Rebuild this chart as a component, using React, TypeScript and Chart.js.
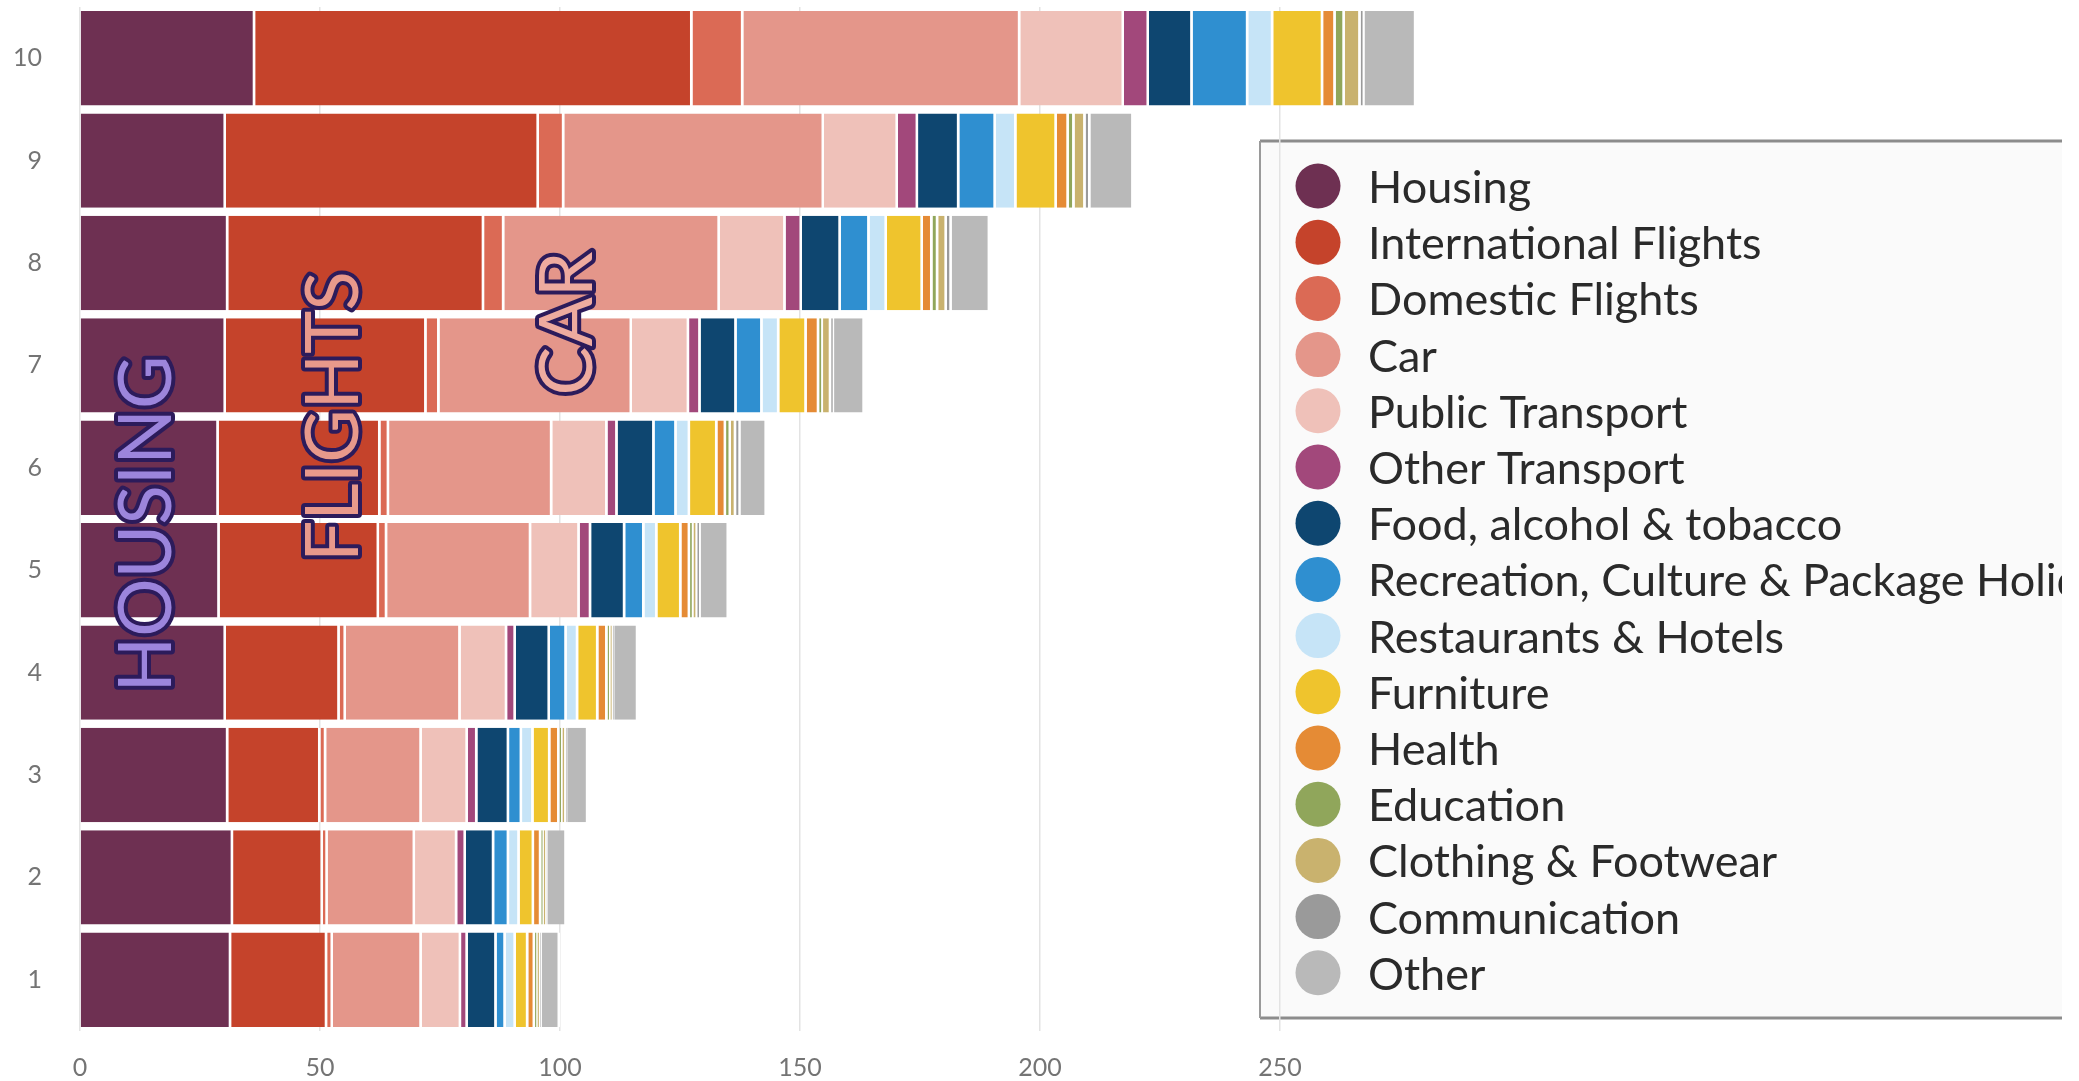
import React, { useEffect, useRef } from 'react';
import { Chart, registerables } from 'chart.js';

Chart.register(...registerables);

// ---- data ----
const categories = ['1', '2', '3', '4', '5', '6', '7', '8', '9', '10'];

const seriesNames = [
  'Housing',
  'International Flights',
  'Domestic Flights',
  'Car',
  'Public Transport',
  'Other Transport',
  'Food, alcohol & tobacco',
  'Recreation, Culture & Package Holidays',
  'Restaurants & Hotels',
  'Furniture',
  'Health',
  'Education',
  'Clothing & Footwear',
  'Communication',
  'Other',
];

const seriesColors = [
  '#6e3052',
  '#c5432b',
  '#db6a55',
  '#e4968a',
  '#efc1b9',
  '#a2487b',
  '#0e4670',
  '#2f8fd0',
  '#c6e4f7',
  '#efc42d',
  '#e58b35',
  '#90a65b',
  '#c9b26e',
  '#9a9a9a',
  '#b9b9b9',
];

const housing = [31.5, 31.9, 30.9, 30.4, 29.1, 28.9, 30.4, 30.9, 30.4, 36.5];
const internationalFlights = [20.0, 18.7, 19.2, 23.7, 33.2, 33.7, 41.8, 53.3, 65.2, 91.1];
const domesticFlights = [1.2, 1.0, 1.2, 1.3, 1.7, 1.8, 2.7, 4.2, 5.3, 10.6];
const car = [18.5, 18.2, 19.9, 23.9, 30.0, 34.0, 40.1, 44.9, 54.1, 57.7];
const publicTransport = [8.2, 8.8, 9.6, 9.7, 10.1, 11.5, 11.9, 13.7, 15.4, 21.6];
const otherTransport = [1.4, 1.8, 2.0, 1.8, 2.4, 2.1, 2.4, 3.4, 4.2, 5.2];
const food = [6.0, 5.9, 6.6, 7.1, 7.1, 7.7, 7.5, 8.1, 8.6, 9.1];
const recreation = [1.9, 3.1, 2.7, 3.5, 4.0, 4.6, 5.4, 6.0, 7.6, 11.6];
const restaurants = [2.1, 2.2, 2.4, 2.4, 2.7, 2.8, 3.5, 3.6, 4.3, 5.2];
const furniture = [2.6, 3.0, 3.5, 4.2, 5.0, 5.7, 5.7, 7.5, 8.4, 10.4];
const health = [1.4, 1.5, 1.9, 1.9, 1.8, 1.8, 2.6, 2.0, 2.5, 2.6];
const education = [0.5, 0.5, 0.6, 0.6, 0.7, 1.0, 0.8, 1.2, 1.2, 1.9];
const clothing = [0.6, 0.6, 0.7, 0.5, 0.8, 1.1, 1.7, 1.8, 2.3, 3.3];
const communication = [0.3, 0.3, 0.3, 0.3, 0.7, 0.9, 0.6, 1.0, 1.0, 0.8];
const other = [3.8, 3.9, 4.4, 5.0, 5.9, 5.5, 6.4, 8.0, 9.0, 10.8];

const seriesValues = [
  housing,
  internationalFlights,
  domesticFlights,
  car,
  publicTransport,
  otherTransport,
  food,
  recreation,
  restaurants,
  furniture,
  health,
  education,
  clothing,
  communication,
  other,
];

// x axis ticks
const xMin = 0;
const xMax = 400;
const xStep = 50;
const xLastLabel = 250;

// overlay annotations (anchored in data units: x value, category index)
const annotationLabels = ['HOUSING', 'FLIGHTS', 'CAR'];
const annotationX = [13.6, 52.4, 101.2];
const annotationY = [4.45, 5.5, 6.41];
const annotationFill = ['#9c85dc', '#e8998b', '#eeab9f'];

// ---- styles ----
const TICK_FONT = { family: 'Lato', size: 25 };
const TICK_COLOR = '#747474';

const LEGEND = {
  left: 1260,
  top: 141,
  right: 2062,
  bottom: 1018,
  firstY: 186,
  step: 56.2,
  circleX: 1318,
  radius: 22.5,
  textX: 1368,
  font: '45px Lato',
};

const legendBoxPlugin = {
  id: 'legendBox',
  beforeDraw(chart: any) {
    const ctx = chart.ctx as CanvasRenderingContext2D;
    const L = LEGEND;
    ctx.save();
    ctx.fillStyle = '#fafafa';
    ctx.fillRect(L.left, L.top, L.right - L.left, L.bottom - L.top);
    ctx.strokeStyle = '#8c8c8c';
    ctx.lineWidth = 3;
    ctx.beginPath();
    ctx.moveTo(L.left, L.top);
    ctx.lineTo(L.right, L.top);
    ctx.moveTo(L.left, L.bottom);
    ctx.lineTo(L.right, L.bottom);
    ctx.stroke();
    ctx.strokeStyle = '#9a9a9a';
    ctx.lineWidth = 2;
    ctx.beginPath();
    ctx.moveTo(L.left, L.top);
    ctx.lineTo(L.left, L.bottom);
    ctx.stroke();
    ctx.restore();
  },
  afterDraw(chart: any) {
    const ctx = chart.ctx as CanvasRenderingContext2D;
    const L = LEGEND;
    ctx.save();
    ctx.beginPath();
    ctx.rect(L.left, L.top, L.right - L.left, L.bottom - L.top);
    ctx.clip();
    chart.data.datasets.forEach((ds: any, i: number) => {
      const cy = L.firstY + i * L.step;
      ctx.fillStyle = ds.backgroundColor;
      ctx.beginPath();
      ctx.arc(L.circleX, cy, L.radius, 0, Math.PI * 2);
      ctx.fill();
      ctx.fillStyle = '#2a2a2a';
      ctx.font = L.font;
      ctx.textAlign = 'left';
      ctx.textBaseline = 'alphabetic';
      ctx.fillText(ds.label, L.textX, cy + 17);
    });
    ctx.restore();
  },
};

const overlayPlugin = {
  id: 'overlayText',
  afterDraw(chart: any) {
    const ctx = chart.ctx as CanvasRenderingContext2D;
    const xs = chart.scales.x;
    const ys = chart.scales.y;
    annotationLabels.forEach((txt, i) => {
      const px = xs.getPixelForValue(annotationX[i]);
      const py = ys.getPixelForValue(annotationY[i]);
      ctx.save();
      ctx.translate(px, py);
      ctx.rotate(-Math.PI / 2);
      ctx.font = '73px Lato';
      ctx.textAlign = 'center';
      ctx.textBaseline = 'alphabetic';
      ctx.lineJoin = 'round';
      ctx.lineWidth = 8;
      ctx.strokeStyle = '#2c1b5b';
      ctx.strokeText(txt, 0, 26);
      ctx.fillStyle = annotationFill[i];
      ctx.fillText(txt, 0, 26);
      ctx.restore();
    });
  },
};

export default function App() {
  const ref = useRef<HTMLCanvasElement>(null);

  useEffect(() => {
    document.body.style.margin = '0';
    const canvas = ref.current;
    if (!canvas) return;
    const chart = new Chart(canvas, {
      type: 'bar',
      data: {
        labels: categories,
        datasets: seriesValues.map((values, i) => ({
          label: seriesNames[i],
          data: values,
          backgroundColor: seriesColors[i],
          borderColor: '#ffffff',
          borderWidth: { right: 2.5 },
          borderSkipped: false,
          barPercentage: 0.922,
          categoryPercentage: 1,
        })),
      },
      options: {
        indexAxis: 'y',
        responsive: false,
        animation: false,
        devicePixelRatio: 1,
        layout: { padding: { top: 7, right: 79, bottom: 0, left: 0 } },
        plugins: {
          legend: { display: false },
          tooltip: { enabled: false },
        },
        scales: {
          x: {
            stacked: true,
            min: xMin,
            max: xMax,
            ticks: {
              stepSize: xStep,
              autoSkip: false,
              maxRotation: 0,
              padding: 22,
              font: TICK_FONT,
              color: TICK_COLOR,
              callback: (v: any) => (Number(v) > xLastLabel ? '' : String(v)),
            },
            grid: {
              drawTicks: false,
              lineWidth: 1.5,
              color: (c: any) =>
                c.tick && c.tick.value > xLastLabel ? 'rgba(0,0,0,0)' : '#e3e3e3',
            },
            border: { display: false },
            afterFit: (s: any) => {
              s.height = 50;
              s.paddingLeft = 0;
              s.paddingRight = 0;
            },
          },
          y: {
            stacked: true,
            reverse: true,
            ticks: {
              padding: 38,
              font: TICK_FONT,
              color: TICK_COLOR,
            },
            grid: { display: false, drawTicks: false },
            border: { display: false },
            afterFit: (s: any) => {
              s.width = 80;
              s.paddingTop = 0;
              s.paddingBottom = 0;
            },
          },
        },
      } as any,
      plugins: [legendBoxPlugin, overlayPlugin],
    });
    return () => chart.destroy();
  }, []);

  return (
    <div
      style={{
        position: 'fixed',
        left: 0,
        top: 0,
        width: 2079,
        height: 1081,
        background: '#ffffff',
      }}
    >
      <canvas ref={ref} width={2079} height={1081} style={{ display: 'block' }} />
    </div>
  );
}
